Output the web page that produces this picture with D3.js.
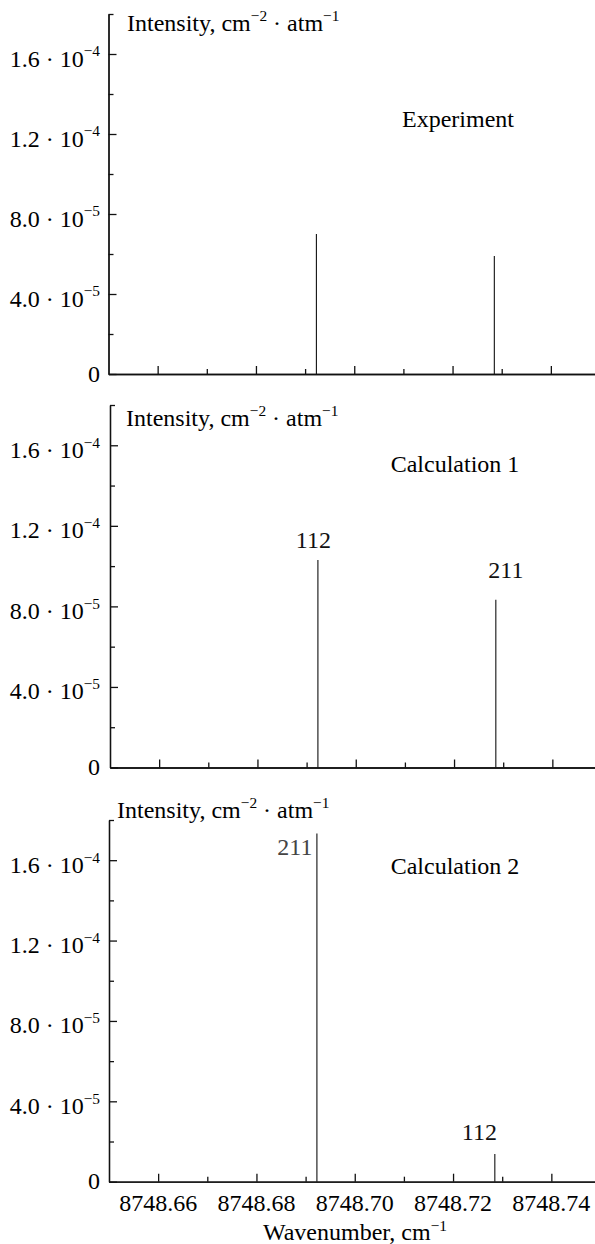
<!DOCTYPE html>
<html>
<head>
<meta charset="utf-8">
<script src="https://cdn.jsdelivr.net/npm/d3@7"></script>
<style>
  body { margin: 0; background: #fff; }
</style>
</head>
<body>
<div id="vis"></div>
<script>
// line positions (cm-1) and intensities (cm-2 atm-1)
const wavenumbers = [8748.6923, 8748.7285];
const experiment = [7.0e-5, 5.9e-5];
const calc1 = [1.03e-4, 8.33e-5];
const calc2 = [1.733e-4, 1.38e-5];

const panelNames = ["Experiment", "Calculation 1", "Calculation 2"];
const calc1Labels = ["112", "211"];
const calc2Labels = ["211", "112"];

const xTicks = [8748.66, 8748.68, 8748.70, 8748.72, 8748.74];
const xMinor = [8748.67, 8748.69, 8748.71, 8748.73];
const yTicks = [0, 4e-5, 8e-5, 1.2e-4, 1.6e-4];
const yTickText = [["0", ""], ["4.0 · 10", "−5"], ["8.0 · 10", "−5"], ["1.2 · 10", "−4"], ["1.6 · 10", "−4"]];
const yMinor = [2e-5, 6e-5, 1e-4, 1.4e-4, 1.8e-4];

// layout of the three stacked panels (pixels)
let layout = [
    {zero: 374,   top: 14,  dx: 0,   titleX: 458, titleY: 127, intX: 127, intY: 31},
    {zero: 767.5, top: 405, dx: 1.5, titleX: 455, titleY: 472, intX: 126, intY: 426},
    {zero: 1181.7, top: 820, dx: 0.5, titleX: 455, titleY: 874, intX: 117, intY: 818}
]
let series = [experiment, calc1, calc2]
let lineLabels = [[], calc1Labels, calc2Labels]
// label nudges relative to the top of each line: [dx, dy, anchor]
let nudges = [[], [[-4.5, -12.5, "middle"], [10, -22, "middle"]], [[-4.5, 22, "end"], [-15.5, -14, "middle"]]]

let width = 595, height = 1244
let serif = '"Liberation Serif", "Times New Roman", Times, serif'

let svg = d3.select("#vis")
    .append('svg')
    .attr('width', width)
    .attr('height', height)
    .attr('font-family', serif)

// write text with superscripts: parts = [[str, isSup], ...]
function richText(sel, parts, size, lift){
    lift = lift || 0.42
    let sup = false
    parts.forEach(p => {
        if (p[0] === "") return
        let t = sel.append('tspan').text(p[0])
        if (p[1] && !sup) { t.attr('dy', -lift * size).attr('font-size', size * 0.64); sup = true }
        else if (!p[1] && sup) { t.attr('dy', lift * size); sup = false }
    })
}

let fs = 24

layout.forEach((L, k) => {
    let x = d3.scaleLinear().domain([8748.65, 8748.75]).range([108.5 + L.dx, 600 + L.dx])
    let y = d3.scaleLinear().domain([0, 1.8e-4]).range([L.zero, L.top])
    let g = svg.append('g')

    // y axis, ticks pointing inward
    g.append('g')
        .attr('transform', `translate(${x.range()[0]},0)`)
        .call(d3.axisLeft(y).tickValues(yTicks).tickSizeInner(-8).tickSizeOuter(0).tickFormat(''))
    g.append('g')
        .attr('transform', `translate(${x.range()[0]},0)`)
        .call(d3.axisLeft(y).tickValues(yMinor).tickSizeInner(-5).tickSizeOuter(0).tickFormat(''))

    // x axis
    g.append('g')
        .attr('transform', `translate(0,${L.zero})`)
        .call(d3.axisBottom(x).tickValues(xTicks).tickSizeInner(-8).tickSizeOuter(0).tickFormat(''))
    g.append('g')
        .attr('transform', `translate(0,${L.zero})`)
        .call(d3.axisBottom(x).tickValues(xMinor).tickSizeInner(-5).tickSizeOuter(0).tickFormat(''))

    g.selectAll('.domain, .tick line').attr('stroke', '#111').attr('stroke-width', 1.3)

    // y tick labels
    g.selectAll('.ylab')
        .data(yTicks)
        .enter()
        .append('text')
        .attr('class', 'ylab')
        .attr('x', 100)
        .attr('y', (d, i) => y(d) + (i === 0 ? 7.5 : 12.5))
        .attr('text-anchor', 'end')
        .attr('font-family', serif)
        .attr('font-size', fs)
        .each(function(d, i){ richText(d3.select(this), [[yTickText[i][0], false], [yTickText[i][1], true]], fs) })

    // axis title on top of the y axis
    g.append('text')
        .attr('x', L.intX)
        .attr('y', L.intY)
        .attr('font-family', serif)
        .attr('font-size', fs)
        .call(t => richText(t, [["Intensity, cm", false], ["−2", true], [" · atm", false], ["−1", true]], fs))

    // panel name
    g.append('text')
        .attr('x', L.titleX)
        .attr('y', L.titleY)
        .attr('text-anchor', 'middle')
        .attr('font-family', serif)
        .attr('font-size', fs)
        .text(panelNames[k])

    // stick spectrum
    g.selectAll('.stick')
        .data(series[k])
        .enter()
        .append('line')
        .attr('x1', (d, i) => x(wavenumbers[i]))
        .attr('x2', (d, i) => x(wavenumbers[i]))
        .attr('y1', y(0))
        .attr('y2', d => y(d))
        .attr('stroke', '#111')
        .attr('stroke-width', 1.1)

    // line assignments
    g.selectAll('.llab')
        .data(lineLabels[k])
        .enter()
        .append('text')
        .attr('x', (d, i) => x(wavenumbers[i]) + nudges[k][i][0])
        .attr('y', (d, i) => y(series[k][i]) + nudges[k][i][1])
        .attr('text-anchor', (d, i) => nudges[k][i][2])
        .attr('font-family', serif)
        .attr('font-size', fs)
        .attr('fill', (d, i) => k === 2 && i === 0 ? '#444' : '#111')
        .text(d => d)

    // wavenumber tick labels only on the bottom panel
    if (k === 2) {
        g.selectAll('.xlab')
            .data(xTicks)
            .enter()
            .append('text')
            .attr('x', d => x(d))
            .attr('y', L.zero + 29)
            .attr('text-anchor', 'middle')
            .attr('font-family', serif)
            .attr('font-size', fs)
            .text(d => d.toFixed(2))

        g.append('text')
            .attr('x', 355)
            .attr('y', 1240)
            .attr('text-anchor', 'middle')
            .attr('font-family', serif)
            .attr('font-size', fs)
            .call(t => richText(t, [["Wavenumber, cm", false], ["−1", true]], fs, 0.36))
    }
})
</script>
</body>
</html>
